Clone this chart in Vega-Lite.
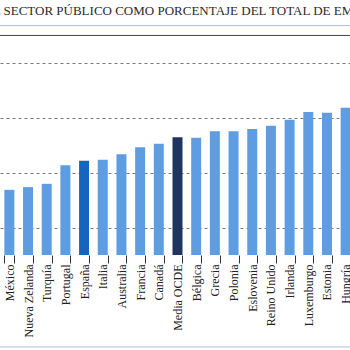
{
  "$schema": "https://vega.github.io/schema/vega-lite/v6.json",
  "width": 350,
  "height": 219,
  "autosize": {"type": "none"},
  "padding": {"left": 0, "top": 36, "right": 0, "bottom": 95},
  "background": "#ffffff",
  "config": {"view": {"stroke": null}},
  "title": {
    "text": "EMPLEO EN EL SECTOR PÚBLICO COMO PORCENTAJE DEL TOTAL DE EMPLEO",
    "anchor": "start",
    "frame": "group",
    "baseline": "alphabetic",
    "offset": -3,
    "dx": -91,
    "font": "Liberation Serif",
    "fontSize": 13,
    "fontWeight": "normal",
    "color": "#2a2a2a"
  },
  "data": {
    "values": [
      {"pais": "México", "valor": 11.9, "tipo": "pais"},
      {"pais": "Nueva Zelanda", "valor": 12.4, "tipo": "pais"},
      {"pais": "Turquía", "valor": 13.0, "tipo": "pais"},
      {"pais": "Portugal", "valor": 16.4, "tipo": "pais"},
      {"pais": "España", "valor": 17.2, "tipo": "espana"},
      {"pais": "Italia", "valor": 17.4, "tipo": "pais"},
      {"pais": "Australia", "valor": 18.4, "tipo": "pais"},
      {"pais": "Francia", "valor": 19.7, "tipo": "pais"},
      {"pais": "Canadá", "valor": 20.3, "tipo": "pais"},
      {"pais": "Media OCDE", "valor": 21.5, "tipo": "media"},
      {"pais": "Bélgica", "valor": 21.4, "tipo": "pais"},
      {"pais": "Grecia", "valor": 22.6, "tipo": "pais"},
      {"pais": "Polonia", "valor": 22.6, "tipo": "pais"},
      {"pais": "Eslovenia", "valor": 23.0, "tipo": "pais"},
      {"pais": "Reino Unido", "valor": 23.6, "tipo": "pais"},
      {"pais": "Irlanda", "valor": 24.7, "tipo": "pais"},
      {"pais": "Luxemburgo", "valor": 26.1, "tipo": "pais"},
      {"pais": "Estonia", "valor": 26.0, "tipo": "pais"},
      {"pais": "Hungría", "valor": 26.9, "tipo": "pais"}
    ]
  },
  "layer": [
    {
      "mark": {"type": "bar", "clip": true},
      "encoding": {
        "x": {
          "field": "pais",
          "type": "nominal",
          "sort": null,
          "scale": {"range": [0, 355], "paddingInner": 0.465, "paddingOuter": 0.2325},
          "axis": {
            "title": null,
            "domain": false,
            "ticks": true,
            "tickBand": "extent",
            "tickSize": 8,
            "tickColor": "#333333",
            "labelAngle": -90,
            "labelPadding": 1,
            "labelFont": "Liberation Serif",
            "labelFontSize": 12,
            "labelColor": "#222222"
          }
        },
        "y": {
          "field": "valor",
          "type": "quantitative",
          "scale": {"domain": [0, 40]},
          "axis": {
            "title": null,
            "labels": false,
            "ticks": false,
            "domain": false,
            "grid": true,
            "values": [5, 10, 15, 20, 25, 30, 35],
            "gridDash": [3, 3],
            "gridColor": "#777777",
            "gridWidth": 1
          }
        },
        "color": {
          "field": "tipo",
          "type": "nominal",
          "scale": {"domain": ["pais", "espana", "media"], "range": ["#5f9de2", "#1565bf", "#1f355f"]},
          "legend": null
        }
      }
    },
    {
      "data": {"values": [{"linea": "marco", "y": 40.1}]},
      "mark": {"type": "rule", "color": "#444444", "strokeWidth": 1},
      "encoding": {"y": {"field": "y", "type": "quantitative"}}
    },
    {
      "data": {"values": [{"linea": "cabecera", "y": 41.9}, {"linea": "pie", "y": -16.8}]},
      "mark": {"type": "rule", "color": "#a9c1d9", "strokeWidth": 1},
      "encoding": {"y": {"field": "y", "type": "quantitative"}}
    }
  ]
}
